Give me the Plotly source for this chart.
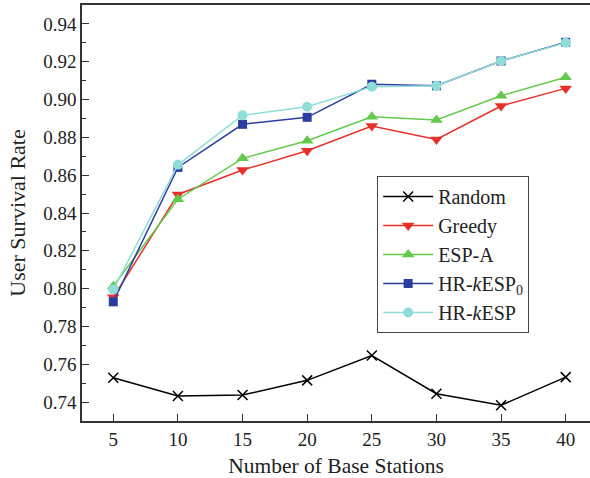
import plotly.graph_objects as go

stations = [5, 10, 15, 20, 25, 30, 35, 40]
random_vals = [0.7529, 0.7432, 0.7437, 0.7515, 0.7646, 0.7444, 0.7383, 0.7532]
greedy_vals = [0.7954, 0.8498, 0.8627, 0.8729, 0.8860, 0.8789, 0.8966, 0.9059]
espa_vals = [0.8013, 0.8473, 0.8689, 0.8782, 0.8909, 0.8892, 0.9020, 0.9118]
hrk0_vals = [0.7930, 0.8641, 0.8869, 0.8906, 0.9081, 0.9073, 0.9204, 0.9303]
hrk_vals = [0.7995, 0.8655, 0.8917, 0.8962, 0.9068, 0.9073, 0.9204, 0.9301]

series = [
    ("Random", random_vals, "#000000", "x-thin", 10),
    ("Greedy", greedy_vals, "#e8302a", "triangle-down", 11),
    ("ESP-A", espa_vals, "#63c94a", "triangle-up", 11),
    ("HR-<i>k</i>ESP<sub>0</sub>", hrk0_vals, "#2b3e9e", "square", 9),
    ("HR-<i>k</i>ESP", hrk_vals, "#8fdcd8", "circle", 10),
]

FONT = "Liberation Serif"
fig = go.Figure()
for name, vals, color, sym, size in series:
    marker = dict(symbol=sym, size=size, color=color)
    if sym == "x-thin":
        marker["line"] = dict(color=color, width=1.5)
    fig.add_trace(go.Scatter(
        x=stations, y=vals, name=name, mode="lines+markers",
        line=dict(color=color, width=1.5), marker=marker,
    ))

fig.update_layout(
    width=590, height=478,
    margin=dict(l=82, r=0, t=5, b=57),
    paper_bgcolor="white", plot_bgcolor="white",
    font=dict(family=FONT, size=19, color="#222"),
    showlegend=True,
    legend=dict(
        x=0.581, y=0.589, xanchor="left", yanchor="top",
        bordercolor="#444", borderwidth=1, bgcolor="white",
        font=dict(family=FONT, size=20, color="#222"),
        tracegroupgap=0, itemwidth=50,
    ),
    xaxis=dict(
        range=[2.58, 41.88], tickvals=stations, ticks="inside", ticklen=7,
        tickwidth=1.2, tickcolor="#333", showline=True, linecolor="#333",
        linewidth=1.5, mirror=True, showgrid=False, zeroline=False,
        title=dict(text="Number of Base Stations", font=dict(size=21.5), standoff=12),
        tickfont=dict(size=19),
    ),
    yaxis=dict(
        range=[0.73, 0.95], dtick=0.02, tick0=0.74, tickformat=".2f",
        ticks="inside", ticklen=7, tickwidth=1.2, tickcolor="#333",
        minor=dict(ticks="inside", ticklen=4, dtick=0.01, tick0=0.73, tickcolor="#333", tickwidth=1.2),
        showline=True, linecolor="#333", linewidth=1.5, mirror=False,
        showgrid=False, zeroline=False,
        title=dict(text="User Survival Rate", font=dict(size=22), standoff=12),
        tickfont=dict(size=19),
    ),
)

fig.write_html("out.html")
